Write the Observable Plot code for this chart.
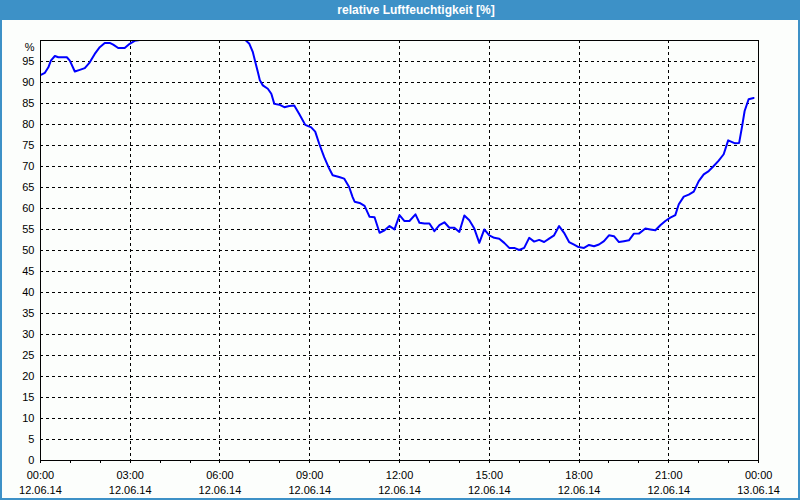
<!DOCTYPE html>
<html>
<head>
<meta charset="utf-8">
<script src="https://cdn.jsdelivr.net/npm/d3@7"></script>
<script src="https://cdn.jsdelivr.net/npm/@observablehq/plot@0.6"></script>
<style>
  html, body { margin: 0; padding: 0; background: #ffffff; }
  #frame { position: relative; width: 800px; height: 500px; box-sizing: border-box;
           border-left: 2px solid #3d91c7; border-right: 2px solid #3d91c7; border-bottom: 2px solid #3d91c7;
           background: #fcfefc; overflow: hidden; font-family: "Liberation Sans", Arial, sans-serif; }
  #title { position: absolute; left: -2px; top: 0; width: 800px; height: 20px; background: #3d91c7;
           color: #ffffff; font-weight: bold; font-size: 12px; line-height: 21px; text-align: center;
           padding-left: 32px; box-sizing: border-box; }
  #chart { position: absolute; left: -2px; top: 20px; }
  #chart svg { background: transparent; }
</style>
</head>
<body>
<div id="frame">
  <div id="title">relative Luftfeuchtigkeit [%]</div>
  <div id="chart"></div>
</div>
<script>
// time in minutes since 00:00 on 12.06.14
const minutes = [
  1, 9, 16, 21, 29, 36, 53, 59, 69, 79, 89, 99, 109, 119, 129, 139, 146, 156, 169, 179, 189, 199,
  220, 260, 300, 340, 380, 405,
  411, 419, 426, 431, 436, 440, 446, 456, 463, 469, 479, 489, 499, 509, 519, 531, 543, 551, 559, 569, 579, 586,
  599, 609, 619, 626, 630, 640, 650, 660, 670, 680, 690, 700, 710, 720, 730, 740, 752, 760, 770, 780, 790,
  800, 810, 820, 830, 840, 850, 860, 870, 880, 890, 900, 910, 920, 930, 940, 950, 960, 970, 980, 990,
  1000, 1010, 1020, 1030, 1040, 1050, 1060, 1070, 1079, 1090, 1100, 1110, 1120, 1130, 1140, 1150, 1160,
  1170, 1180, 1190, 1200, 1213, 1223, 1233, 1243, 1253, 1263, 1273, 1280, 1290, 1300, 1310, 1320, 1330,
  1340, 1350, 1360, 1370, 1379, 1387, 1393, 1401, 1407, 1412, 1420, 1430
];
const humidity = [
  91.8, 92.3, 93.6, 95.2, 96.3, 96.0, 96.0, 95.2, 92.6, 93.0, 93.4, 94.8, 96.8, 98.4, 99.4, 99.4, 99.0, 98.2, 98.2, 99.2, 99.9, 100.1,
  101.0, 102.0, 102.0, 102.0, 101.5, 100.5,
  100.1, 99.2, 97.2, 94.8, 92.5, 90.5, 89.3, 88.5, 87.3, 84.9, 84.7, 84.1, 84.4, 84.5, 82.5, 79.9, 79.3, 78.3, 75.4, 72.2, 69.5, 67.9,
  67.5, 67.1, 65.1, 62.7, 61.6, 61.3, 60.6, 58.0, 57.9, 54.2, 54.8, 55.8, 55.0, 58.4, 57.0, 57.0, 58.6, 56.6, 56.4, 56.4, 54.6,
  56.0, 56.7, 55.4, 55.4, 54.4, 58.3, 57.2, 55.2, 51.8, 55.0, 53.6, 53.0, 52.8, 51.8, 50.6, 50.6, 50.1, 50.6, 53.0, 52.1,
  52.5, 52.0, 52.8, 53.6, 55.8, 54.2, 52.0, 51.4, 50.8, 50.6, 51.3, 51.0, 51.4, 52.2, 53.6, 53.4, 52.0,
  52.2, 52.4, 54.0, 54.0, 55.2, 55.0, 54.8, 56.0, 57.0, 57.8, 58.4, 61.0, 62.8, 63.3, 64.0, 66.5, 68.1,
  68.9, 70.1, 71.4, 72.9, 76.2, 75.8, 75.5, 75.6, 79.6, 83.2, 86.0, 86.3
];

const xLabelTicks = [0, 180, 360, 540, 720, 900, 1080, 1260, 1440];
const xTimeLabels = ["00:00", "03:00", "06:00", "09:00", "12:00", "15:00", "18:00", "21:00", "00:00"];
const xDateLabels = ["12.06.14", "12.06.14", "12.06.14", "12.06.14", "12.06.14", "12.06.14", "12.06.14", "12.06.14", "13.06.14"];
const xGridTicks = [180, 360, 540, 720, 900, 1080, 1260];
const xMinorTicks = [0, 60, 120, 180, 240, 300, 360, 420, 480, 540, 600, 660, 720, 780, 840, 900, 960, 1020, 1080, 1140, 1200, 1260, 1320, 1380, 1440];
const yTicks = [0, 5, 10, 15, 20, 25, 30, 35, 40, 45, 50, 55, 60, 65, 70, 75, 80, 85, 90, 95];
const yGridTicks = [5, 10, 15, 20, 25, 30, 35, 40, 45, 50, 55, 60, 65, 70, 75, 80, 85, 90, 95];
const yUnitLabel = "%";

const data = minutes.map((t, i) => ({t, v: humidity[i]}));
const xLabels = xLabelTicks.map((t, i) => ({t, label: xTimeLabels[i] + "\n" + xDateLabels[i]}));

const chart = Plot.plot({
  width: 800,
  height: 480,
  marginLeft: 40,
  marginRight: 40,
  marginTop: 20,
  marginBottom: 39,
  style: {fontFamily: "'Liberation Sans', Arial, sans-serif", fontSize: "11px", color: "#000", background: "transparent"},
  x: {domain: [0, 1440], axis: null},
  y: {domain: [0, 100], axis: null},
  marks: [
    Plot.gridY(yGridTicks, {stroke: "#000", strokeOpacity: 1, strokeDasharray: "3,3", shapeRendering: "crispEdges"}),
    Plot.gridX(xGridTicks, {stroke: "#000", strokeOpacity: 1, strokeDasharray: "3,3", shapeRendering: "crispEdges"}),
    Plot.line(data, {x: "t", y: "v", stroke: "#0000ff", strokeWidth: 2, clip: true}),
    Plot.frame({stroke: "#000", shapeRendering: "crispEdges"}),
    Plot.axisY(yTicks, {tickSize: 0, tickPadding: 6, label: null, fill: "#000", fontSize: 11}),
    Plot.text([yUnitLabel], {frameAnchor: "top-left", text: d => d, textAnchor: "end", dx: -6, dy: 3, fill: "#000", fontSize: 11}),
    Plot.axisX(xMinorTicks, {tickSize: 3, tickFormat: () => "", label: null, stroke: "#000", shapeRendering: "crispEdges"}),
    Plot.text(xLabels, {x: "t", text: "label", frameAnchor: "bottom", lineAnchor: "top", dy: 8, lineHeight: 1.36, fill: "#000", fontSize: 11})
  ]
});
document.getElementById("chart").appendChild(chart);
</script>
</body>
</html>
